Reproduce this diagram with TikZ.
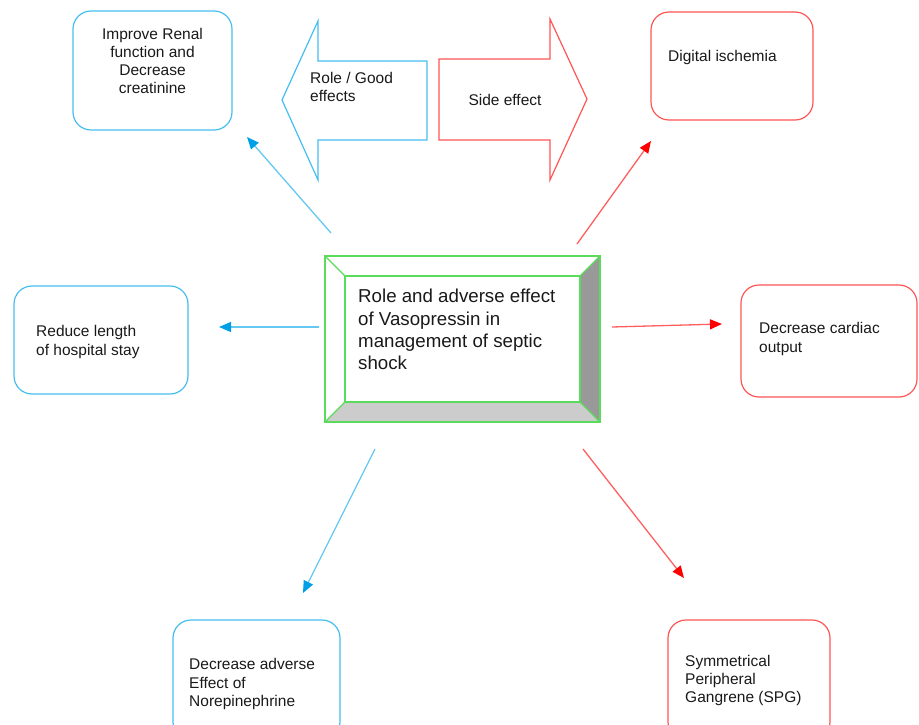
\documentclass[tikz,border=0pt]{standalone}
\usepackage{fontspec}
\setmainfont{Liberation Sans}
\usetikzlibrary{arrows.meta}
\definecolor{cyanb}{RGB}{70,190,240}
\definecolor{cyanl}{RGB}{100,200,242}
\definecolor{cyanh}{RGB}{0,160,230}
\definecolor{redb}{RGB}{255,85,85}
\definecolor{redl}{RGB}{255,95,95}
\definecolor{redh}{RGB}{255,0,0}
\definecolor{greenb}{RGB}{90,220,90}
\definecolor{darkbevel}{RGB}{153,153,153}
\definecolor{lightbevel}{RGB}{204,204,204}
\begin{document}
\begin{tikzpicture}[x=1pt,y=-1pt,
  cbox/.style={draw=cyanb, line width=1.2pt, rounded corners=18pt, inner sep=0pt},
  rbox/.style={draw=redb, line width=1.2pt, rounded corners=18pt, inner sep=0pt},
  txt/.style={font=\fontsize{15.5}{18.3}\selectfont, align=left, inner sep=0pt, text=black!90},
  bigtxt/.style={font=\fontsize{18.7}{22.3}\selectfont, align=left, inner sep=0pt, text=black!90},
  carr/.style={draw=cyanl, line width=1.3pt, -{Triangle[length=12pt,width=10pt,color=cyanh]}},
  rarr/.style={draw=redl, line width=1.3pt, -{Triangle[length=12pt,width=10pt,color=redh]}},
  bevel/.style={draw=greenb, line width=1.2pt}
]
\useasboundingbox (0,0) rectangle (919,725);

% outer boxes
\node[cbox, minimum width=159pt, minimum height=119pt] (renal) at (152.5,70.5) {};
\node[txt, align=center] (renalT) at (152.5,61) {Improve Renal\\function and\\Decrease\\creatinine};

\node[rbox, minimum width=162pt, minimum height=108pt] (digital) at (732,66) {};
\node[txt, anchor=west] (digitalT) at (668,57.5) {Digital ischemia};

\node[cbox, minimum width=174pt, minimum height=108pt] (reduce) at (101,340) {};
\node[txt, anchor=west] (reduceT) at (36,342) {Reduce length\\of hospital stay};

\node[rbox, minimum width=176pt, minimum height=112pt] (cardiac) at (829,341) {};
\node[txt, anchor=west] (cardiacT) at (759,339) {Decrease cardiac\\output};

\node[cbox, minimum width=167pt, minimum height=120pt] (adverse) at (256.5,680) {};
\node[txt, anchor=west] (adverseT) at (189,684) {Decrease adverse\\Effect of\\Norepinephrine};

\node[rbox, minimum width=162pt, minimum height=120pt] (spg) at (749,680) {};
\node[txt, anchor=west] (spgT) at (685,680.5) {Symmetrical\\Peripheral\\Gangrene (SPG)};

% block arrows
\draw[draw=cyanb, line width=1.2pt, fill=white]
  (282,100) -- (318,21) -- (318,61) -- (427,61) -- (427,140) -- (318,140) -- (318,180) -- cycle;
\node[txt, anchor=west] (roleT) at (310,87) {Role / Good\\effects};

\draw[draw=redb, line width=1.2pt, fill=white]
  (439,59) -- (550,59) -- (550,19) -- (587,99) -- (550,180) -- (550,140) -- (439,140) -- cycle;
\node[txt, align=center] (sideT) at (505,99.5) {Side effect};

% central bevelled box
\coordinate (o1) at (325,256); \coordinate (o2) at (600,256);
\coordinate (o3) at (600,422); \coordinate (o4) at (325,422);
\coordinate (i1) at (345,276); \coordinate (i2) at (580,276);
\coordinate (i3) at (580,402); \coordinate (i4) at (345,402);
\fill[darkbevel] (o2) -- (o3) -- (i3) -- (i2) -- cycle;
\fill[lightbevel] (o4) -- (o3) -- (i3) -- (i4) -- cycle;
\node[bevel, minimum width=275pt, minimum height=166pt, inner sep=0pt] (center) at (462.5,339) {};
\node[bevel, minimum width=235pt, minimum height=126pt, inner sep=0pt] (centerIn) at (462.5,339) {};
\draw[bevel] (o1) -- (i1) (o2) -- (i2) (o3) -- (i3) (o4) -- (i4);
\node[bigtxt, anchor=west] (centerT) at (358,329.5) {Role and adverse effect\\of Vasopressin in\\management of septic\\shock};

% connectors
\coordinate (s1) at (331,233); \coordinate (e1) at (247,137);
\coordinate (s2) at (319,327); \coordinate (e2) at (219,327);
\coordinate (s3) at (577,244); \coordinate (e3) at (651,141);
\coordinate (s4) at (612,327); \coordinate (e4) at (722,324);
\coordinate (s5) at (375,449); \coordinate (e5) at (303,593);
\coordinate (s6) at (583,449); \coordinate (e6) at (684,578);
\draw[carr] (s1) -- (e1);
\draw[carr] (s2) -- (e2);
\draw[rarr] (s3) -- (e3);
\draw[rarr] (s4) -- (e4);
\draw[carr] (s5) -- (e5);
\draw[rarr] (s6) -- (e6);
\end{tikzpicture}
\end{document}
